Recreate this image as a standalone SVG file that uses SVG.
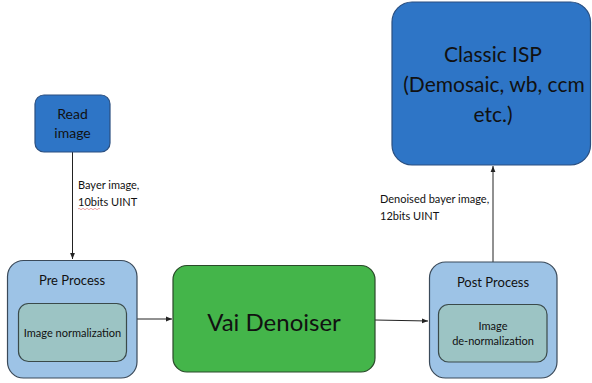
<svg xmlns="http://www.w3.org/2000/svg" width="592" height="383" viewBox="0 0 592 383">
<defs>
<style>
text{font-family:Lato,"Liberation Sans",sans-serif;fill:#111;text-anchor:middle}
.blue{fill:#2e75c6;stroke:#2a4f80;stroke-width:1.2}
.light{fill:#9dc3e6;stroke:#3a4a5a;stroke-width:1.2}
.teal{fill:#9cc4c4;stroke:#3a4a4a;stroke-width:1.2}
.green{fill:#44b54a;stroke:#2a4a2a;stroke-width:1.2}
.edge{stroke:#222;stroke-width:1;fill:none;marker-end:url(#ah)}
.lbl{font-size:11px;text-anchor:start}
</style>
<marker id="ah" viewBox="0 0 10 10" refX="10" refY="5" markerWidth="6" markerHeight="6" orient="auto"><path d="M0,1 L10,5 L0,9 z" fill="#222"/></marker>
</defs>
<rect width="592" height="383" fill="#fff"/>
<g id="edges">
<line class="edge" x1="72.5" y1="152" x2="72.5" y2="259"/>
<line class="edge" x1="137" y1="319" x2="172" y2="319"/>
<line class="edge" x1="375" y1="320" x2="428" y2="321"/>
<line class="edge" x1="493" y1="262" x2="493" y2="166"/>
<text class="lbl" x="78" y="189">Bayer image,</text>
<text class="lbl" x="78" y="206">10bits UINT</text>
<path d="M78,209 q1,-1.5 2,0 t2,0 t2,0 t2,0 t2,0 t2,0 t2,0 t2,0 t2,0 t2,0 t2,0" stroke="#e06666" stroke-width="0.6" fill="none"/>
<text class="lbl" x="380" y="203">Denoised bayer image,</text>
<text class="lbl" x="380" y="220">12bits UINT</text>
</g>
<g id="read">
<rect class="blue" x="35" y="95" width="75" height="57" rx="9"/>
<text x="72.5" y="119" font-size="14">Read</text>
<text x="72.5" y="138" font-size="14">image</text>
</g>
<g id="pre">
<rect class="light" x="7.5" y="260.5" width="129.5" height="117.5" rx="16"/>
<text x="72" y="285" font-size="13">Pre Process</text>
<rect class="teal" x="18.5" y="303.5" width="108" height="58" rx="10"/>
<text x="72.5" y="337" font-size="11">Image normalization</text>
</g>
<g id="vai">
<rect class="green" x="173" y="265.5" width="202" height="106.5" rx="14"/>
<text x="274" y="331" font-size="24">Vai Denoiser</text>
</g>
<g id="post">
<rect class="light" x="429.5" y="262" width="127.5" height="116" rx="16"/>
<text x="493" y="287" font-size="13">Post Process</text>
<rect class="teal" x="438.5" y="304.5" width="108.5" height="57.5" rx="10"/>
<text x="493" y="330" font-size="11">Image</text>
<text x="493" y="345" font-size="11">de-normalization</text>
</g>
<g id="isp">
<rect class="blue" x="392" y="2" width="198.5" height="163" rx="20"/>
<text x="493" y="62" font-size="21">Classic ISP</text>
<text x="494" y="92" font-size="21">(Demosaic, wb, ccm</text>
<text x="493" y="122" font-size="21">etc.)</text>
</g>
</svg>
